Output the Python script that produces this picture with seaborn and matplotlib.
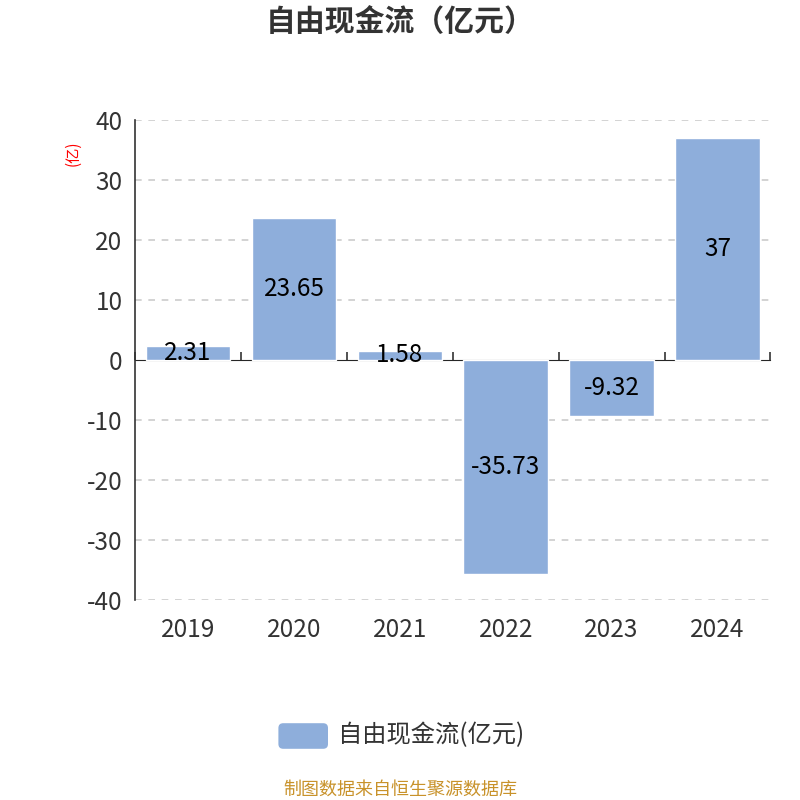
import pandas as pd
import matplotlib
matplotlib.use("Agg")
import matplotlib.pyplot as plt
import seaborn as sns
from matplotlib.patches import FancyBboxPatch

# ---------- Data ----------
years = ['2019', '2020', '2021', '2022', '2023', '2024']
values = [2.31, 23.65, 1.58, -35.73, -9.32, 37]
labels = ['2.31', '23.65', '1.58', '-35.73', '-9.32', '37']
y_ticks = [-40, -30, -20, -10, 0, 10, 20, 30, 40]

df = pd.DataFrame({'year': years, 'value': values})

sns.set_style("white")
plt.rcParams['font.family'] = ['Noto Sans CJK SC', 'DejaVu Sans']

bar_color = '#8eaedb'
text_color = '#333333'

fig = plt.figure(figsize=(8, 8), dpi=100)
ax = fig.add_axes([0.169, 0.25, 0.794, 0.60])

sns.barplot(data=df, x='year', y='value', color=bar_color, width=0.8,
            saturation=1, ax=ax)

ax.set_xlim(-0.5, len(years) - 0.5)
ax.set_ylim(-40, 40)
ax.set_yticks(y_ticks)
ax.set_yticklabels([str(t) for t in y_ticks])

# dashed grid except at zero
for t in y_ticks:
    if t != 0:
        ax.axhline(t, color='#cccccc', linestyle=(0, (4, 4)), linewidth=1.2, zorder=0)

for side in ['top', 'right', 'bottom']:
    ax.spines[side].set_visible(False)
ax.spines['left'].set_color(text_color)
ax.spines['left'].set_linewidth(1.2)

ax.tick_params(axis='y', length=6, width=1.2, color=text_color,
               labelsize=17.5, labelcolor=text_color, pad=3)
ax.tick_params(axis='x', length=0, labelsize=17.5, labelcolor=text_color, pad=12)

# axis line at zero with boundary ticks
sec = ax.secondary_xaxis(0.5)
sec.set_xticks([i - 0.5 for i in range(len(years) + 1)])
sec.set_xticklabels([''] * (len(years) + 1))
sec.tick_params(axis='x', length=6, width=1.2, color=text_color, direction='out')
sec.spines['bottom'].set_color(text_color)
sec.spines['bottom'].set_linewidth(1.2)

ax.bar_label(ax.containers[0], labels=labels, label_type='center',
             fontsize=17.5, color='black')

ax.set_xlabel('')
ax.set_ylabel('(亿)', color='red', fontsize=11)
ax.yaxis.set_label_coords(-0.085, 0.93)

fig.text(0.5, 0.972, '自由现金流（亿元）', ha='center', va='center',
         fontsize=21.5, fontweight='bold', color=text_color)

# legend
patch = FancyBboxPatch((0.348, 0.064), 0.062, 0.032, boxstyle='round,pad=0,rounding_size=0.006',
                       transform=fig.transFigure, facecolor=bar_color, edgecolor='none')
fig.patches.append(patch)
fig.text(0.422, 0.081, '自由现金流(亿元)', ha='left', va='center',
         fontsize=17.5, color=text_color)

fig.text(0.5, 0.013, '制图数据来自恒生聚源数据库', ha='center', va='center',
         fontsize=13, color='#c8922a')

fig.savefig('out.png', dpi=100)
